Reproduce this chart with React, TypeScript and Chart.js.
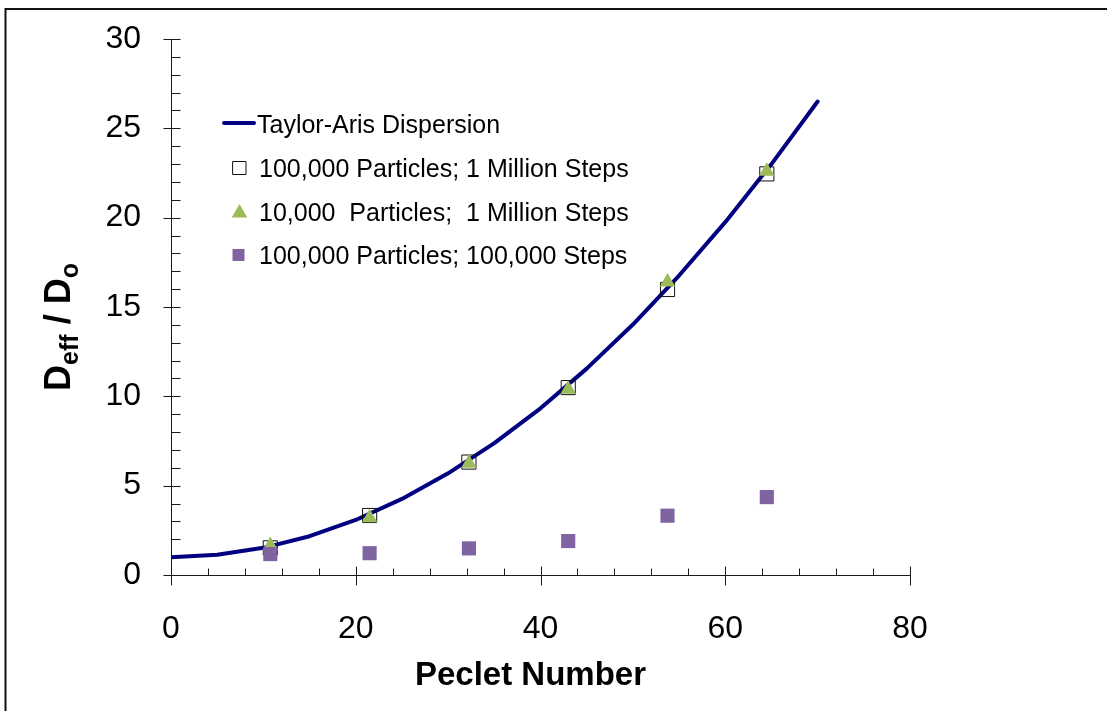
import React, { useEffect, useRef } from 'react';
import { Chart, registerables } from 'chart.js';

Chart.register(...registerables);

// ---- data ----
const taylorPe = [0, 5, 10, 15, 20, 25, 30, 35, 40, 45, 50, 55, 60, 65, 70];
const taylorD = [1.0, 1.13, 1.52, 2.17, 3.08, 4.26, 5.69, 7.38, 9.33, 11.55, 14.02, 16.76, 19.75, 23.0, 26.5];

const simPe = [10.75, 21.5, 32.25, 43.0, 53.75, 64.5];
const d100kP1MSteps = [1.52, 3.33, 6.32, 10.49, 15.98, 22.45];
const d10kP1MSteps = [1.65, 3.2, 6.25, 10.4, 16.4, 22.6];
const d100kP100kSteps = [1.17, 1.22, 1.49, 1.9, 3.32, 4.36];

const seriesLabels = [
  'Taylor-Aris Dispersion',
  '100,000 Particles; 1 Million Steps',
  '10,000  Particles;  1 Million Steps',
  '100,000 Particles; 100,000 Steps',
];

const xTitle = 'Peclet Number';
const yTitleParts = ['D', 'eff', ' / D', 'o'];

const xMin = 0, xMax = 80, xMajor = 20, xMinor = 4;
const yMin = 0, yMax = 30, yMajor = 5, yMinor = 1;

const FONT = "'Liberation Sans', Arial, sans-serif";
const NAVY = '#000080';
const GREEN = '#9BBB59';
const PURPLE = '#8064A2';

const toPts = (xs: number[], ys: number[]) => xs.map((x, i) => ({ x, y: ys[i] }));

function drawSquare(ctx: CanvasRenderingContext2D, cx: number, cy: number, side: number, fill: string | null, stroke: string | null) {
  ctx.beginPath();
  ctx.rect(cx - side / 2, cy - side / 2, side, side);
  if (fill) { ctx.fillStyle = fill; ctx.fill(); }
  if (stroke) { ctx.strokeStyle = stroke; ctx.lineWidth = 1; ctx.stroke(); }
}

function drawTriangle(ctx: CanvasRenderingContext2D, cx: number, cy: number, r: number, fill: string) {
  ctx.beginPath();
  ctx.moveTo(cx, cy - r);
  ctx.lineTo(cx + r * Math.sqrt(3) / 2, cy + r / 2);
  ctx.lineTo(cx - r * Math.sqrt(3) / 2, cy + r / 2);
  ctx.closePath();
  ctx.fillStyle = fill;
  ctx.fill();
}

const excelPlugin = {
  id: 'excelLook',
  beforeDatasetsDraw(chart: any) {
    const { ctx, scales } = chart;
    const x = scales.x, y = scales.y;
    ctx.save();
    ctx.strokeStyle = '#1a1a1a';
    ctx.lineWidth = 1;
    const ax = Math.round(x.getPixelForValue(xMin)) + 0.5;
    const ay = Math.round(y.getPixelForValue(yMin)) + 0.5;
    ctx.beginPath();
    ctx.moveTo(ax, Math.round(y.getPixelForValue(yMax)));
    ctx.lineTo(ax, ay);
    ctx.lineTo(Math.round(x.getPixelForValue(xMax)) + 1, ay);
    for (let v = yMin; v <= yMax + 1e-9; v += yMinor) {
      const py = Math.round(y.getPixelForValue(v)) + 0.5;
      const major = Math.abs(v / yMajor - Math.round(v / yMajor)) < 1e-9;
      ctx.moveTo(major ? ax - 8 : ax, py);
      ctx.lineTo(ax + 9, py);
    }
    for (let v = xMin; v <= xMax + 1e-9; v += xMinor) {
      const px = Math.round(x.getPixelForValue(v)) + 0.5;
      const major = Math.abs(v / xMajor - Math.round(v / xMajor)) < 1e-9;
      ctx.moveTo(px, major ? ay - 9 : ay - 7);
      ctx.lineTo(px, major ? ay + 10 : ay);
    }
    ctx.stroke();
    ctx.restore();
  },
  afterDraw(chart: any) {
    const { ctx, chartArea } = chart;
    ctx.save();
    // outer frame
    ctx.strokeStyle = '#111';
    ctx.lineWidth = 2;
    ctx.strokeRect(5.5, 9, 1300, 900);

    // x title
    ctx.fillStyle = '#000';
    ctx.font = `bold 33px ${FONT}`;
    ctx.textAlign = 'center';
    ctx.textBaseline = 'alphabetic';
    ctx.fillText(xTitle, (chartArea.left + chartArea.right) / 2 - 10, 685);

    // y title with subscripts
    const big = `bold 36px ${FONT}`;
    const small = `bold 25px ${FONT}`;
    const fonts = [big, small, big, small];
    const bases = [70, 78, 70, 78];
    let total = 0;
    const widths = yTitleParts.map((t, i) => { ctx.font = fonts[i]; const w = ctx.measureText(t).width; total += w; return w; });
    ctx.translate(0, (chartArea.top + chartArea.bottom) / 2 + 20);
    ctx.rotate(-Math.PI / 2);
    ctx.textAlign = 'left';
    let cx = -total / 2;
    yTitleParts.forEach((t, i) => {
      ctx.font = fonts[i];
      ctx.fillText(t, cx, bases[i]);
      cx += widths[i];
    });
    ctx.setTransform(1, 0, 0, 1, 0, 0);

    // legend
    const rows = [124, 168, 212, 255];
    const baselines = [133, 177, 220.5, 264];
    ctx.font = `25px ${FONT}`;
    ctx.textAlign = 'left';
    ctx.textBaseline = 'alphabetic';
    ctx.fillStyle = '#000';
    ctx.strokeStyle = NAVY;
    ctx.lineWidth = 4;
    ctx.lineCap = 'round';
    ctx.beginPath();
    ctx.moveTo(224, rows[0] - 1);
    ctx.lineTo(254, rows[0] - 1);
    ctx.stroke();
    drawSquare(ctx, 239.5, rows[1], 13, null, '#111');
    drawTriangle(ctx, 239.5, rows[2] + 1, 9, GREEN);
    drawSquare(ctx, 238.5, rows[3], 12, PURPLE, null);
    ctx.fillStyle = '#000';
    seriesLabels.forEach((label, i) => {
      ctx.fillText(label, i === 0 ? 257 : 259, baselines[i]);
    });
    ctx.restore();
  },
};

export default function App() {
  const ref = useRef<HTMLCanvasElement>(null);
  useEffect(() => {
    const canvas = ref.current!;
    const chart = new Chart(canvas, {
      type: 'scatter',
      data: {
        datasets: [
          {
            label: seriesLabels[0],
            data: toPts(taylorPe, taylorD),
            showLine: true,
            borderColor: NAVY,
            backgroundColor: NAVY,
            borderWidth: 4,
            borderCapStyle: 'round',
            borderJoinStyle: 'round',
            pointRadius: 0,
            pointHoverRadius: 0,
            tension: 0,
            order: 4,
          },
          {
            label: seriesLabels[1],
            data: toPts(simPe, d100kP1MSteps),
            pointStyle: 'rect',
            pointRadius: 10,
            pointBackgroundColor: 'rgba(255,255,255,0)',
            pointBorderColor: '#111',
            pointBorderWidth: 1,
            showLine: false,
            order: 3,
          },
          {
            label: seriesLabels[2],
            data: toPts(simPe, d10kP1MSteps),
            pointStyle: 'triangle',
            pointRadius: 9,
            pointBackgroundColor: GREEN,
            pointBorderColor: GREEN,
            pointBorderWidth: 0,
            showLine: false,
            order: 2,
          },
          {
            label: seriesLabels[3],
            data: toPts(simPe, d100kP100kSteps),
            pointStyle: 'rect',
            pointRadius: 10,
            pointBackgroundColor: PURPLE,
            pointBorderColor: PURPLE,
            pointBorderWidth: 0,
            showLine: false,
            order: 1,
          },
        ],
      } as any,
      options: {
        animation: false,
        responsive: false,
        maintainAspectRatio: false,
        devicePixelRatio: 1,
        layout: { padding: { left: 0, right: 197, top: 39, bottom: 0 } },
        plugins: { legend: { display: false }, tooltip: { enabled: false } },
        events: [],
        scales: {
          x: {
            type: 'linear',
            min: xMin,
            max: xMax,
            grid: { display: false, drawTicks: false },
            border: { display: false },
            ticks: { stepSize: xMajor, padding: 35, color: '#000', font: { size: 32, family: FONT }, autoSkip: false, maxRotation: 0 },
            afterFit: (s: any) => { s.height = 136; s.paddingLeft = 0; s.paddingRight = 0; },
          },
          y: {
            type: 'linear',
            min: yMin,
            max: yMax,
            grid: { display: false, drawTicks: false },
            border: { display: false },
            ticks: { stepSize: yMajor, padding: 30, color: '#000', font: { size: 32, family: FONT }, autoSkip: false },
            afterFit: (s: any) => { s.width = 171; s.paddingTop = 0; s.paddingBottom = 0; },
          },
        },
      } as any,
      plugins: [excelPlugin],
    });
    return () => chart.destroy();
  }, []);
  return (
    <div style={{ position: 'absolute', left: 0, top: 0, width: 1107, height: 711, background: '#fff' }}>
      <canvas ref={ref} width={1107} height={711} style={{ display: 'block', width: 1107, height: 711 }} />
    </div>
  );
}
